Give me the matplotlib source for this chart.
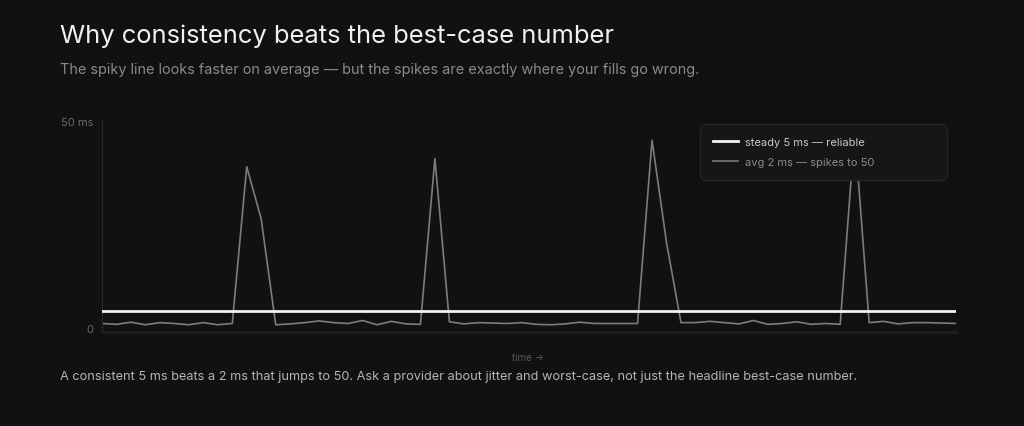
import numpy as np
import matplotlib.pyplot as plt
import matplotlib.transforms as mtransforms

plt.rcParams['font.family'] = ['Inter', 'DejaVu Sans']

# data
steady_ms = 5
spiky_ms = [2.0, 1.8, 2.3, 1.7, 2.2, 2.0, 1.7, 2.2, 1.7, 2.0,
            38.8, 26.5, 1.7, 1.9, 2.2, 2.6, 2.2, 2.0, 2.7, 1.7,
            2.5, 1.9, 1.8, 40.7, 2.4, 1.9, 2.2, 2.1, 2.0, 2.2,
            1.8, 1.7, 1.9, 2.3, 2.0, 2.0, 2.0, 2.0, 45.0, 21.0,
            2.2, 2.2, 2.5, 2.2, 1.9, 2.7, 1.8, 2.0, 2.4, 1.8,
            2.0, 1.8, 47.0, 2.2, 2.5, 1.9, 2.2, 2.2, 2.1, 2.0]
t = np.arange(len(spiky_ms))
ytick_vals = [0, 50]
ytick_labels = ['0', '50 ms']

bg = '#111111'
fig = plt.figure(figsize=(10.24, 4.27), dpi=100, facecolor=bg)
ax = fig.add_axes([102/1024, 1 - 333/427, 854/1024, 213/427])
ax.set_facecolor(bg)

ax.plot(t, np.full(len(t), steady_ms), color='#f2f2f2', lw=2.0,
        label='steady 5 ms — reliable', zorder=3)
ax.plot(t, spiky_ms, color='#7c7c7c', lw=1.2,
        label='avg 2 ms — spikes to 50', zorder=2)

ax.set_xlim(0, len(t) - 1)
ax.set_ylim(0, 50)
ax.set_yticks(ytick_vals)
ax.set_yticklabels(ytick_labels)
ax.set_xticks([])
ax.tick_params(axis='y', length=0, pad=6.5, labelsize=8, labelcolor='#6a6a6a')
# nudge the tick labels like the reference (0 sits a bit high, 50 ms a bit low)
for lab, dy in zip(ax.get_yticklabels(), [4, -2]):
    lab.set_transform(lab.get_transform() +
                      mtransforms.ScaledTranslation(0, dy / 100, fig.dpi_scale_trans))
for s in ['top', 'right']:
    ax.spines[s].set_visible(False)
ax.spines['left'].set_color('#2a2a2a')
ax.spines['bottom'].set_color('#1e1e1e')
ax.spines['bottom'].set_linewidth(2)

leg = ax.legend(loc='upper left', bbox_to_anchor=(0.700, 0.725, 0.289, 0.252),
                mode='expand', fontsize=8,
                frameon=True, facecolor='#161616', edgecolor='#262626',
                framealpha=1, handlelength=2.2, handletextpad=0.7,
                borderpad=1.2, labelspacing=0.85, borderaxespad=0)
leg.get_frame().set_boxstyle('round,pad=0,rounding_size=0.6')
leg.get_texts()[0].set_color('#c8c8c8')
leg.get_texts()[1].set_color('#8c8c8c')
leg.set_zorder(5)

fig.text(60/1024, 1 - 36/427, 'Why consistency beats the best-case number',
         fontsize=18.4, color='#f0f0f0', va='center', ha='left')
fig.text(60/1024, 1 - 70/427,
         'The spiky line looks faster on average — but the spikes are exactly where your fills go wrong.',
         fontsize=10.4, color='#8a8a8a', va='center', ha='left')
fig.text(528/1024, 1 - 358/427, 'time →', fontsize=7, color='#5a5a5a',
         va='center', ha='center')
fig.text(60/1024, 1 - 377/427,
         'A consistent 5 ms beats a 2 ms that jumps to 50. Ask a provider about jitter and worst-case, not just the headline best-case number.',
         fontsize=9.2, color='#b4b4b4', va='center', ha='left')

fig.savefig('out.png', dpi=100, facecolor=bg)
